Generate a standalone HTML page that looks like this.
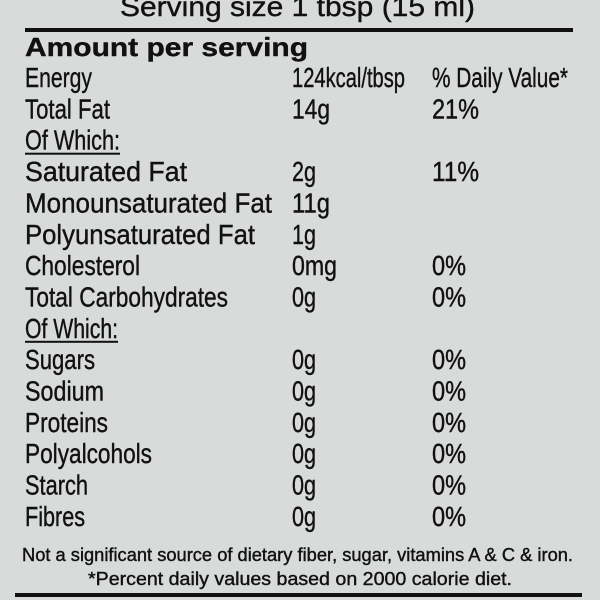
<!DOCTYPE html>
<html><head><meta charset="utf-8"><style>
html,body{margin:0;padding:0;background:#d9dbdb;}
svg{display:block}
text{font-family:"Liberation Sans",sans-serif;fill:#111;stroke:#111;stroke-width:0.4;}
</style></head><body>
<svg width="600" height="600" viewBox="0 0 600 600">
<rect x="0" y="0" width="600" height="600" fill="#d9dbdb"/>
<text x="120" y="16" font-size="28" textLength="355" lengthAdjust="spacingAndGlyphs">Serving size    1 tbsp (15 ml)</text>
<rect x="25" y="28" width="548" height="4" fill="#111"/>
<text x="25" y="56" font-size="26" font-weight="bold" textLength="283" lengthAdjust="spacingAndGlyphs">Amount per serving</text>
<g id="rows"></g>
<text x="22" y="561" font-size="18" textLength="551" lengthAdjust="spacingAndGlyphs">Not a significant source of dietary fiber, sugar, vitamins A &amp; C &amp; iron.</text>
<text x="88" y="585" font-size="18" textLength="424" lengthAdjust="spacingAndGlyphs">*Percent daily values based on 2000 calorie diet.</text>
<rect x="15" y="593" width="567" height="4" fill="#111"/>
</svg>
<script>
const labels=["Energy","Total Fat","Of Which:","Saturated Fat","Monounsaturated Fat","Polyunsaturated Fat","Cholesterol","Total Carbohydrates","Of Which:","Sugars","Sodium","Proteins","Polyalcohols","Starch","Fibres"];
const labelW=[67,85,95,162,247,230,115,203,93,70,79,83,127,63,60];
const amounts=["124kcal/tbsp","14g","","2g","11g","1g","0mg","0g","","0g","0g","0g","0g","0g","0g"];
const dvs=["% Daily Value*","21%","","11%","","","0%","0%","","0%","0%","0%","0%","0%","0%"];
const ns="http://www.w3.org/2000/svg";
const g=document.getElementById('rows');
function amtW(s){return s==="124kcal/tbsp"?113:(s==="0mg"?45:(s.length===3?38:24));}
function dvW(s){return s==="% Daily Value*"?136:(s==="0%"?34:47);}
function addText(x,y,str,w,name){
  const t=document.createElementNS(ns,'text');
  t.setAttribute('x',x);t.setAttribute('y',y);t.setAttribute('font-size','28');
  t.setAttribute('textLength',w);t.setAttribute('lengthAdjust','spacingAndGlyphs');
  t.textContent=str;
  
  
  g.appendChild(t);return t;
}
labels.forEach((l,i)=>{
  const y=87+i*31.35;
  const nm=l.toLowerCase().replace(/[^a-z]+/g,'-').replace(/-$/,'');
  addText(25,y,l,labelW[i],nm+'-label');
  if(l==="Of Which:"){
    const u=document.createElementNS(ns,'rect');
    u.setAttribute('x',25);u.setAttribute('y',y+3);u.setAttribute('width',labelW[i]);u.setAttribute('height',2);u.setAttribute('fill','#111');
    
    
    g.appendChild(u);
  }
  if(amounts[i]) addText(292,y,amounts[i],amtW(amounts[i]),nm+'-amount');
  if(dvs[i]) addText(432,y,dvs[i],dvW(dvs[i]),nm+'-daily-value');
});
</script>
</body></html>
